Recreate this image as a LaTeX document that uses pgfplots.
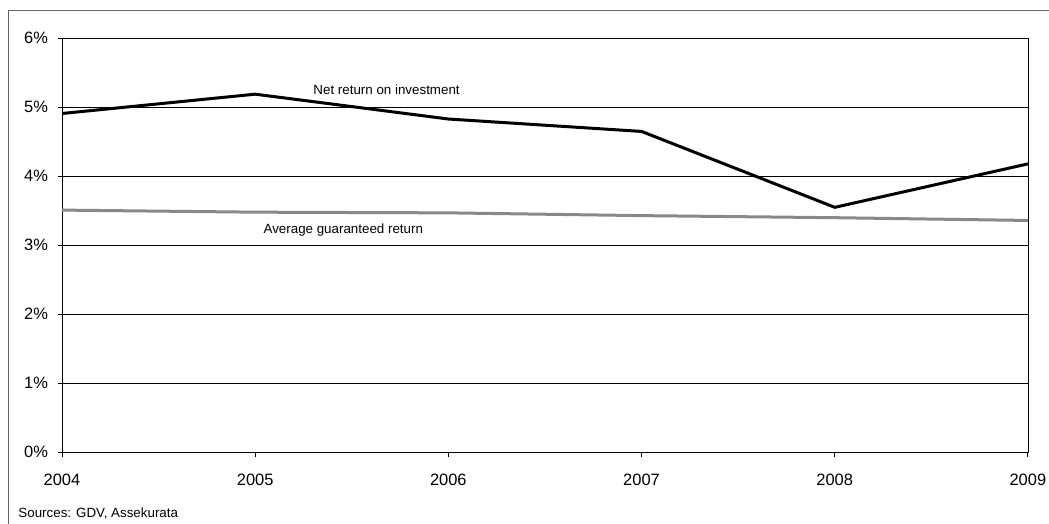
\documentclass[border=0pt]{standalone}
\usepackage{pgfplots}
\pgfplotsset{compat=1.18}
\usepackage{fontspec}
\setmainfont{Liberation Sans}

\definecolor{netline}{RGB}{0,0,0}
\definecolor{guarline}{RGB}{136,136,136}
\definecolor{framegray}{RGB}{100,100,100}

\begin{document}
\begin{tikzpicture}[x=1bp,y=1bp]
  \useasboundingbox (0,0) rectangle (1049,524);
  \fill[white] (0,0) rectangle (1049,524);
  % outer frame (open at right and bottom)
  \draw[framegray, line width=1bp] (8.3,-5) -- (8.3,513.8) -- (1060,513.8);

  \begin{axis}[
    at={(62bp,71.7bp)}, anchor=south west,
    scale only axis,
    width=966bp, height=414bp,
    xmin=2004, xmax=2009,
    ymin=0, ymax=6,
    xtick={2004,...,2009},
    xticklabels={2004,2005,2006,2007,2008,2009},
    ytick={0,...,6},
    yticklabels={0\%,1\%,2\%,3\%,4\%,5\%,6\%},
    tick align=outside,
    xtick pos=bottom, ytick pos=left,
    major tick length=4.5bp,
    tick style={black, line width=0.8bp},
    ymajorgrids,
    grid style={black, line width=0.9bp},
    axis line style={black, line width=1bp},
    ticklabel style={font=\fontsize{16.5}{18}\selectfont},
    yticklabel style={xshift=-6bp},
    xticklabel style={yshift=-14bp},
    clip=false,
  ]
    \addplot[guarline, line width=3bp] coordinates {
      (2004,3.51) (2005,3.48) (2006,3.47) (2007,3.43) (2008,3.40) (2009,3.36)
    };
    \addplot[netline, line width=3bp] coordinates {
      (2004,4.91) (2005,5.19) (2006,4.83) (2007,4.65) (2008,3.55) (2009,4.18)
    };
    \node[font=\fontsize{13.4}{15}\selectfont] at (axis cs:2005.68,5.26) {Net return on investment};
    \node[font=\fontsize{13.4}{15}\selectfont] at (axis cs:2005.456,3.22) {Average guaranteed return};
  \end{axis}

  \node[anchor=west, font=\fontsize{13.4}{15}\selectfont, inner sep=0pt] at (18.3,10) {Sources: GDV, Assekurata};
\end{tikzpicture}
\end{document}
